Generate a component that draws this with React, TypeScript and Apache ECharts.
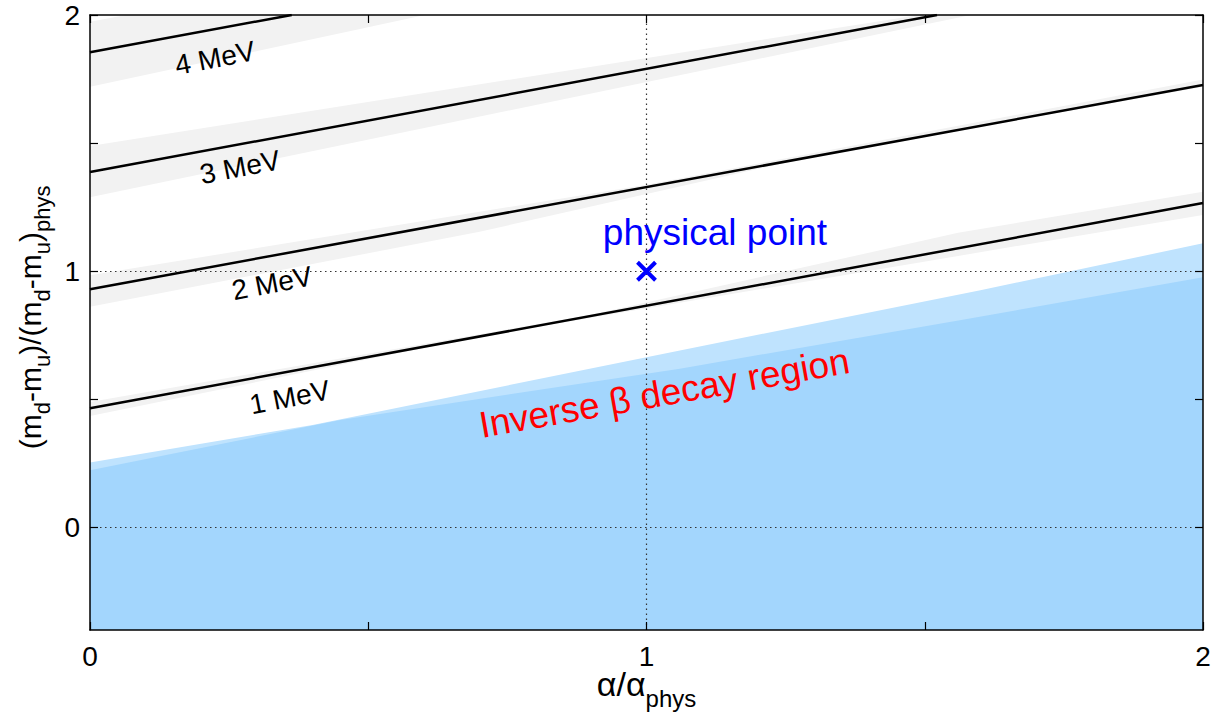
import React, { useEffect, useRef } from "react";
import * as echarts from "echarts";

// axis ticks / labels
const xTicks = [0, 0.5, 1, 1.5, 2];
const xLabels = [0, 1, 2];
const yTicks = [0, 0.5, 1, 1.5, 2];
const yLabels = [0, 1, 2];
const xRange = [0, 2];
const yRange = [-0.4, 2];

// contour lines (mass difference of n-p)
const contour1MeV = [[0, 0.465], [2, 1.266]];
const contour2MeV = [[0, 0.93], [2, 1.727]];
const contour3MeV = [[0, 1.387], [1.522, 2]];
const contour4MeV = [[0, 1.855], [0.3625, 2]];

// uncertainty bands (polygon vertices)
const band1MeV = [[0, 0.49], [0.9, 0.83], [1.56, 1.15], [2, 1.31], [2, 1.22], [1.56, 1.06], [0.7, 0.745], [0, 0.435]];
const band2MeV = [[0, 0.984], [0.7, 1.232], [1.0, 1.338], [2, 1.748], [2, 1.72], [1.3, 1.448], [0.7, 1.154], [0, 0.861]];
const band3MeV = [[0, 1.489], [1.49, 2], [1.583, 2], [0, 1.289]];
const band4MeV = [[0, 1.974], [0.065, 2], [0.602, 2], [0, 1.72]];

// inverse beta decay region boundaries (upper edges)
const betaLightEdge = [[0, 0.254], [0.4, 0.4], [1.06, 0.691], [1.6, 0.926], [2, 1.109]];
const betaDarkEdge = [[0, 0.223], [0.45, 0.42], [1.06, 0.62], [1.563, 0.809], [2, 0.977]];

// annotations
const contourLabels = [
  { text: "4 MeV", x: 0.2246, y: 1.832 },
  { text: "3 MeV", x: 0.2695, y: 1.406 },
  { text: "2 MeV", x: 0.327, y: 0.953 },
  { text: "1 MeV", x: 0.359, y: 0.508 },
];
const physicalPoint = [1, 1];
const physicalLabel = { text: "physical point", x: 1.123, y: 1.152 };
const regionLabel = { text: "Inverse \u03b2 decay region", x: 1.032, y: 0.525 };

const FONT = "Liberation Sans, Arial, Helvetica, sans-serif";
const GRAY = "#f2f2f2";
const LIGHT_BLUE = "rgb(191,227,254)";
const DARK_BLUE = "rgb(163,214,253)";

function polySeries(verts: number[][], color: string, z: number) {
  return {
    type: "custom",
    z,
    silent: true,
    clip: true,
    data: [[verts[0][0], verts[0][1]]],
    encode: { x: 0, y: 1 },
    renderItem: (_p: any, api: any) => ({
      type: "polygon",
      shape: { points: verts.map((v) => api.coord(v)) },
      style: { fill: color },
    }),
  };
}

function regionPoly(edge: number[][]) {
  return [...edge, [edge[edge.length - 1][0], yRange[0]], [edge[0][0], yRange[0]]];
}

function lineSeries(pts: number[][]) {
  return {
    type: "line",
    z: 5,
    data: pts,
    symbol: "none",
    silent: true,
    lineStyle: { color: "#000", width: 2.5 },
  };
}

function textSeries(items: { text: string; x: number; y: number }[], color: string, size: number, rotate: number) {
  return {
    type: "scatter",
    z: 8,
    silent: true,
    symbolSize: 1,
    itemStyle: { color: "transparent", opacity: 1 },
    data: items.map((d) => ({ value: [d.x, d.y], name: d.text })),
    label: {
      show: true,
      position: "inside",
      formatter: (p: any) => p.name,
      rotate,
      color,
      opacity: 1,
      textBorderWidth: 0,
      fontSize: size,
      fontFamily: FONT,
    },
  };
}

export default function App() {
  const ref = useRef<HTMLDivElement>(null);
  useEffect(() => {
    if (!ref.current) return;
    const chart = echarts.init(ref.current, null, { renderer: "svg" });
    const axisCommon = {
      type: "value",
      z: 20,
      axisLine: { show: true, onZero: false, lineStyle: { color: "#000", width: 1.5 } },
      splitLine: { show: false },
    };
    const tickStyle = { color: "#000", width: 1.2 };
    const option: any = {
      animation: false,
      backgroundColor: "#fff",
      grid: { left: 90, right: 19, top: 15, bottom: 91, outerBoundsMode: "none" },
      xAxis: [
        {
          ...axisCommon,
          position: "bottom",
          min: xRange[0],
          max: xRange[1],
          interval: 0.5,
          axisTick: { show: true, inside: true, length: 8, customValues: xTicks, lineStyle: tickStyle },
          axisLabel: { show: true, customValues: xLabels, margin: 12, color: "#000", fontSize: 28, fontFamily: FONT },
        },
        {
          ...axisCommon,
          position: "top",
          min: xRange[0],
          max: xRange[1],
          interval: 0.5,
          axisTick: { show: true, inside: true, length: 8, customValues: xTicks, lineStyle: tickStyle },
          axisLabel: { show: false },
        },
      ],
      yAxis: [
        {
          ...axisCommon,
          position: "left",
          min: yRange[0],
          max: yRange[1],
          axisTick: { show: true, inside: true, length: 8, customValues: yTicks, lineStyle: tickStyle },
          axisLabel: { show: true, customValues: yLabels, margin: 10, color: "#000", fontSize: 28, fontFamily: FONT },
        },
        {
          ...axisCommon,
          position: "right",
          min: yRange[0],
          max: yRange[1],
          axisTick: { show: true, inside: true, length: 8, customValues: yTicks, lineStyle: tickStyle },
          axisLabel: { show: false },
        },
      ],
      series: [
        polySeries(band1MeV, GRAY, 1),
        polySeries(band2MeV, GRAY, 1),
        polySeries(band3MeV, GRAY, 1),
        polySeries(band4MeV, GRAY, 1),
        polySeries(regionPoly(betaLightEdge), LIGHT_BLUE, 2),
        polySeries(regionPoly(betaDarkEdge), DARK_BLUE, 2),
        {
          type: "line",
          z: 4,
          data: [],
          silent: true,
          markLine: {
            silent: true,
            symbol: "none",
            label: { show: false },
            lineStyle: { type: [1.5, 3.5], color: "#333", width: 1.2 },
            data: [{ xAxis: 1 }, { yAxis: 1 }, { yAxis: 0 }],
          },
        },
        lineSeries(contour1MeV),
        lineSeries(contour2MeV),
        lineSeries(contour3MeV),
        lineSeries(contour4MeV),
        {
          type: "scatter",
          z: 9,
          silent: true,
          data: [physicalPoint],
          symbol: "path://M0 0 L10 10 M10 0 L0 10",
          symbolSize: 18,
          itemStyle: { color: "transparent", borderColor: "#0000ff", borderWidth: 4, opacity: 1 },
        },
        textSeries(contourLabels, "#000", 28, 11),
        textSeries([physicalLabel], "#0000ff", 37, 0),
        textSeries([regionLabel], "#ff0000", 37, 10),
      ],
    };
    chart.setOption(option);

    const cx = Number(chart.convertToPixel({ xAxisIndex: 0 }, 1));
    const yBottom = Number(chart.convertToPixel({ yAxisIndex: 0 }, yRange[0]));
    const yMidPix = Number(chart.convertToPixel({ yAxisIndex: 0 }, 0.82));
    const richX = {
      a: { fontSize: 34, fontFamily: FONT, fill: "#000", lineHeight: 36, verticalAlign: "bottom", padding: [0, 0, 9, 0] },
      s: { fontSize: 24, fontFamily: FONT, fill: "#000", lineHeight: 26, verticalAlign: "bottom" },
    };
    const richY = {
      a: { fontSize: 30, fontFamily: FONT, fill: "#000", lineHeight: 34, verticalAlign: "bottom", padding: [0, 0, 8, 0] },
      s: { fontSize: 22, fontFamily: FONT, fill: "#000", lineHeight: 24, verticalAlign: "bottom" },
    };
    chart.setOption({
      graphic: [
        {
          type: "text",
          z: 20,
          silent: true,
          x: cx,
          y: yBottom + 62,
          style: {
            align: "center",
            verticalAlign: "middle",
            text: "{a|\u03b1/\u03b1}{s|phys}",
            rich: richX,
          },
        },
        {
          type: "text",
          z: 20,
          silent: true,
          x: 36,
          y: yMidPix,
          rotation: Math.PI / 2,
          style: {
            align: "center",
            verticalAlign: "middle",
            text: "{a|(m}{s|d}{a|-m}{s|u}{a|)/(m}{s|d}{a|-m}{s|u}{a|)}{s|phys}",
            rich: richY,
          },
        },
      ],
    });
    return () => chart.dispose();
  }, []);
  return <div ref={ref} style={{ position: "absolute", left: 0, top: 0, width: 1222, height: 721 }} />;
}
